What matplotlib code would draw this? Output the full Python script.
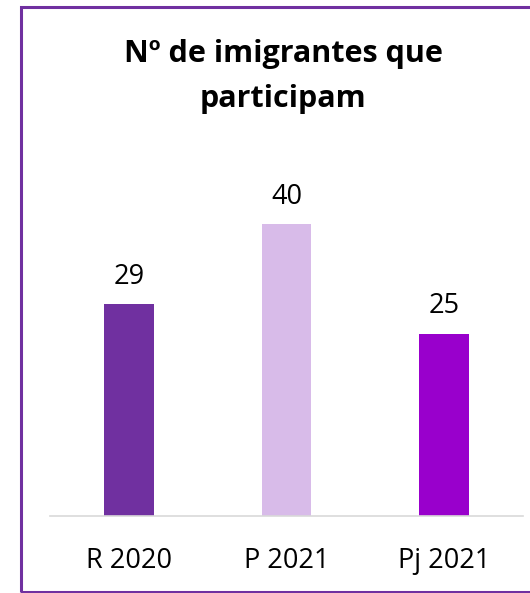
import matplotlib
matplotlib.use("Agg")
import matplotlib.pyplot as plt
from matplotlib.patches import Rectangle

categories = ["R 2020", "P 2021", "Pj 2021"]
values = [29, 40, 25]
bar_colors = ["#7030A0", "#D8BBE9", "#9900CC"]
title_lines = ["Nº de imigrantes que", "participam"]

plt.rcParams['font.family'] = ['Open Sans', 'DejaVu Sans']

fig = plt.figure(figsize=(5.30, 5.93), dpi=100)
W, H = 530, 593

# purple frame (right edge runs off the canvas)
fig.patches.append(Rectangle((21 / W, 1.5 / H), 1.2, (586.5 - 1.5) / H,
                             transform=fig.transFigure, fill=False,
                             edgecolor="#7030A0", linewidth=2.2))

ax = fig.add_axes([50 / W, (H - 516) / H, (523 - 50) / W, 328.5 / H])
x = range(len(categories))
bars = ax.bar(x, values, width=0.317, color=bar_colors)
ax.set_xlim(-0.5, len(categories) - 0.5)
ax.set_ylim(0, 45)

for b, v in zip(bars, values):
    ax.annotate(str(v), (b.get_x() + b.get_width() / 2, v),
                xytext=(0, 14.5), textcoords="offset points",
                ha="center", va="baseline", fontsize=19.5, color="#000000")

ax.set_xticks(list(x))
ax.set_xticklabels(categories, fontsize=19.5)
ax.tick_params(axis="x", length=0, pad=22)
ax.set_yticks([])
for s in ["top", "right", "left"]:
    ax.spines[s].set_visible(False)
ax.spines["bottom"].set_color("#D9D9D9")
ax.spines["bottom"].set_linewidth(1.2)

# title, two lines placed by baseline
for line, base_y in zip(title_lines, [62, 107]):
    fig.text(283 / W, 1 - base_y / H, line, ha="center", va="baseline",
             fontsize=22, fontweight="bold")

fig.savefig("out.png", dpi=100)
